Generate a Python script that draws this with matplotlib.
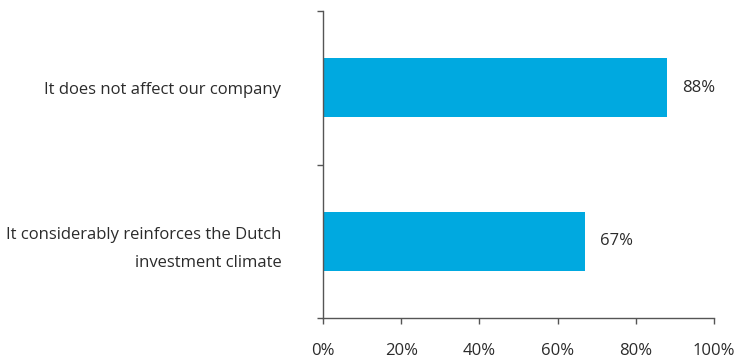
import matplotlib.pyplot as plt
from matplotlib.ticker import FuncFormatter

# Survey responses, shares in percent
categories = ["It does not affect our company",
              "It considerably reinforces the Dutch\ninvestment climate"]
values = [88, 67]

bar_color = "#00A9E0"
text_color = "#2b2b2b"
axis_color = "#555555"

plt.rcParams["font.family"] = ["Open Sans", "DejaVu Sans"]
fs = 12

fig = plt.figure(figsize=(7.39, 3.62), dpi=100)
ax = fig.add_axes([323 / 739, 44 / 362, 391 / 739, 307 / 362])

pos = list(range(len(categories)))[::-1]
ax.barh(pos, values, height=0.385, color=bar_color)

for y, v in zip(pos, values):
    ax.text(v + 3.8, y, f"{v}%", va="center", ha="left", fontsize=fs, color=text_color)

ax.set_xlim(0, 100)
ax.set_ylim(-0.5, 1.5)
ax.set_xticks(range(0, 101, 20))
ax.xaxis.set_major_formatter(FuncFormatter(lambda x, _: f"{x:.0f}%"))
ax.set_yticks(pos)
ax.set_yticklabels(categories, linespacing=2.0)
ax.set_yticks([-0.5, 0.5, 1.5], minor=True)

for side in ("top", "right"):
    ax.spines[side].set_visible(False)
for side in ("left", "bottom"):
    ax.spines[side].set_color(axis_color)
    ax.spines[side].set_linewidth(1.0)

ax.tick_params(axis="x", direction="out", length=4, width=1, color=axis_color,
               pad=14, labelsize=fs, labelcolor=text_color)
ax.tick_params(axis="y", which="major", length=0, pad=30,
               labelsize=fs, labelcolor=text_color)
ax.tick_params(axis="y", which="minor", direction="out", length=4, width=1,
               color=axis_color)

fig.savefig("out.png", dpi=100)
